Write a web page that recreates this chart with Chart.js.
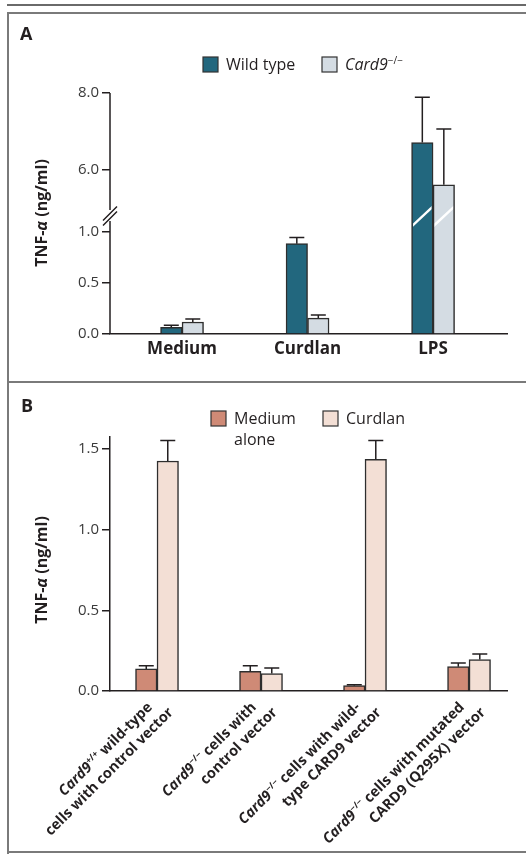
<!DOCTYPE html>
<html>
<head>
<meta charset="utf-8">
<script src="https://cdn.jsdelivr.net/npm/chart.js@4.4.1/dist/chart.umd.min.js"></script>
<style>
  body { margin: 0; background: #fff; }
  #wrap { position: relative; width: 526px; height: 854px; overflow: hidden; }
  .line { position: absolute; background: #7a7a7a; }
  canvas { position: absolute; left: 0; }
</style>
</head>
<body>
<div id="wrap">
  <div class="line" style="left:7px;top:4px;width:519px;height:2px;background:#6a6a6a"></div>
  <div class="line" style="left:7px;top:12px;width:519px;height:2px"></div>
  <div class="line" style="left:7px;top:12px;width:2px;height:842px"></div>
  <div class="line" style="left:7px;top:381px;width:519px;height:2px"></div>
  <div class="line" style="left:7px;top:851px;width:519px;height:2px"></div>
  <canvas id="chartA" width="526" height="382" style="top:0"></canvas>
  <canvas id="chartB" width="526" height="472" style="top:382px"></canvas>
</div>
<script>
// Panel A: TNF-alpha, wild type vs Card9-/-
const categoriesA = ['Medium', 'Curdlan', 'LPS'];
const wildTypeA = [0.065, 0.88, 6.71];
const wildTypeErrA = [0.02, 0.06, 1.18];
const card9A = [0.117, 0.155, 5.61];
const card9ErrA = [0.03, 0.03, 1.45];
const ticksA = [0, 0.5, 1.0, 6.0, 8.0];

// Panel B: TNF-alpha after vector transduction
const mediumB = [0.137, 0.122, 0.033, 0.151];
const mediumErrB = [0.02, 0.035, 0.006, 0.023];
const curdlanB = [1.426, 0.108, 1.437, 0.195];
const curdlanErrB = [0.127, 0.035, 0.116, 0.035];
const ticksB = [0, 0.5, 1.0, 1.5];

// labels with italic (i) and superscript (s) parts
const labelsB = [
  [[{t: 'Card9', i: 1}, {t: '+/+', s: 1}, {t: ' wild-type'}], [{t: 'cells with control vector'}]],
  [[{t: 'Card9', i: 1}, {t: '\u2212/\u2212', s: 1}, {t: ' cells with'}], [{t: 'control vector'}]],
  [[{t: 'Card9', i: 1}, {t: '\u2212/\u2212', s: 1}, {t: ' cells with wild-'}], [{t: 'type CARD9 vector'}]],
  [[{t: 'Card9', i: 1}, {t: '\u2212/\u2212', s: 1}, {t: ' cells with mutated'}], [{t: 'CARD9 (Q295X) vector'}]]
];
const yTitle = [{t: 'TNF-'}, {t: '\u03b1', i: 1}, {t: ' (ng/ml)'}];

const FONT = '"Open Sans", sans-serif';
const INK = '#231f20';
Chart.defaults.font.family = FONT;
Chart.defaults.color = INK;

// axis with a gap between 1.15 and 4.8
class BrokenScale extends Chart.LinearScale {
  getPixelForValue(value) {
    const b = this.options.brk;
    let f;
    if (value <= b.low) f = value / b.low * b.share;
    else if (value >= b.high) f = b.share + (value - b.high) / (this.max - b.high) * (1 - b.share);
    else f = b.share;
    return this.getPixelForDecimal(f);
  }
  getValueForPixel(pixel) {
    const b = this.options.brk;
    const f = this.getDecimalForPixel(pixel);
    if (f <= b.share) return f / b.share * b.low;
    return b.high + (f - b.share) / (1 - b.share) * (this.max - b.high);
  }
}
BrokenScale.id = 'broken';
BrokenScale.defaults = {};
Chart.register(BrokenScale);

function drawRich(ctx, parts, x, y, size, weight, align) {
  const fontOf = p => (p.i ? 'italic ' : '') + weight + ' ' + (p.s ? Math.round(size * 0.62) : size) + 'px ' + FONT;
  let w = 0;
  parts.forEach(p => { ctx.font = fontOf(p); w += ctx.measureText(p.t).width; });
  let cx = align === 'right' ? x - w : align === 'center' ? x - w / 2 : x;
  ctx.textAlign = 'left';
  parts.forEach(p => {
    ctx.font = fontOf(p);
    ctx.fillText(p.t, cx, p.s ? y - size * 0.38 : y);
    cx += ctx.measureText(p.t).width;
  });
}

const errorBars = {
  id: 'errorBars',
  afterDatasetsDraw(chart) {
    const ctx = chart.ctx, y = chart.scales.y;
    ctx.save();
    ctx.strokeStyle = INK;
    ctx.lineWidth = 1.5;
    chart.data.datasets.forEach((ds, di) => {
      chart.getDatasetMeta(di).data.forEach((bar, i) => {
        const top = y.getPixelForValue(ds.data[i].y + ds.errors[i]);
        ctx.beginPath();
        ctx.moveTo(bar.x, bar.y);
        ctx.lineTo(bar.x, top);
        ctx.moveTo(bar.x - 7.5, top);
        ctx.lineTo(bar.x + 7.5, top);
        ctx.stroke();
      });
    });
    ctx.restore();
  }
};

const axisBreak = {
  id: 'axisBreak',
  afterDatasetsDraw(chart) {
    const ctx = chart.ctx, y = chart.scales.y;
    const brk = y.options.brk;
    const by = y.getPixelForValue(brk.low);
    const left = chart.chartArea.left;
    ctx.save();
    // white slash through bars crossing the gap
    chart.data.datasets.forEach((ds, di) => {
      chart.getDatasetMeta(di).data.forEach((bar, i) => {
        if (ds.data[i].y < brk.high) return;
        const hw = bar.width / 2 - 1.5;
        ctx.save();
        ctx.beginPath();
        ctx.rect(bar.x - hw, by - 20, hw * 2, 40);
        ctx.clip();
        ctx.strokeStyle = '#fff';
        ctx.lineWidth = 2.5;
        ctx.beginPath();
        ctx.moveTo(bar.x - hw - 2, by + 11);
        ctx.lineTo(bar.x + hw + 2, by - 10);
        ctx.stroke();
        ctx.restore();
      });
    });
    ctx.strokeStyle = INK;
    ctx.lineWidth = 1.5;
    ctx.beginPath();
    ctx.moveTo(left, y.top);
    ctx.lineTo(left, by - 6);
    ctx.moveTo(left, by + 5);
    ctx.lineTo(left, y.bottom);
    [-2.5, 2.5].forEach(d => {
      ctx.moveTo(left - 7, by + d + 7);
      ctx.lineTo(left + 7, by + d - 7);
    });
    ctx.stroke();
    ctx.restore();
  }
};

// panel letter, y title, legend
const panelText = {
  id: 'panelText',
  afterDraw(chart, args, o) {
    const ctx = chart.ctx;
    ctx.save();
    ctx.fillStyle = INK;
    ctx.textBaseline = 'alphabetic';
    ctx.font = 'bold 18px ' + FONT;
    ctx.fillText(o.letter, o.letterX, o.letterY);
    ctx.save();
    ctx.translate(o.titleX, o.titleY);
    ctx.rotate(-Math.PI / 2);
    ctx.textBaseline = 'middle';
    drawRich(ctx, yTitle, 0, 0, 16, 'bold', 'center');
    ctx.restore();
    o.legend.forEach((item, k) => {
      const ds = chart.data.datasets[k];
      ctx.fillStyle = ds.backgroundColor;
      ctx.fillRect(item.x, o.legendY, 15, 15);
      ctx.strokeStyle = '#333';
      ctx.lineWidth = 1.2;
      ctx.strokeRect(item.x, o.legendY, 15, 15);
      ctx.fillStyle = INK;
      ctx.textBaseline = 'alphabetic';
      item.lines.forEach((line, j) => drawRich(ctx, line, item.x + 23, o.legendY + 13 + j * 21, 16, 'normal', 'left'));
    });
    ctx.restore();
  }
};

const slantLabels = {
  id: 'slantLabels',
  afterDraw(chart) {
    const ctx = chart.ctx, x = chart.scales.x;
    const base = chart.chartArea.bottom;
    ctx.save();
    ctx.fillStyle = INK;
    ctx.textBaseline = 'alphabetic';
    labelsB.forEach((lines, i) => {
      const cx = x.getPixelForValue(i);
      lines.forEach((line, j) => {
        ctx.save();
        ctx.translate(cx - 4 + j * 21, base + 17 + j * 5);
        ctx.rotate(-Math.PI / 4);
        drawRich(ctx, line, 0, 0, 14.5, 'bold', 'right');
        ctx.restore();
      });
    });
    ctx.restore();
  }
};

function barSet(label, values, errs, color) {
  return {
    label: label,
    data: values.map((v, i) => ({x: i, y: v})),
    errors: errs,
    backgroundColor: color,
    borderColor: '#2e2e2e',
    borderWidth: 1.5,
    borderSkipped: 'start',
    barThickness: 21.5
  };
}

const axisLine = {display: true, color: INK, width: 1.5};

new Chart(document.getElementById('chartA'), {
  type: 'bar',
  data: {
    datasets: [
      barSet('Wild type', wildTypeA, wildTypeErrA, '#22677e'),
      barSet('Card9-/-', card9A, card9ErrA, '#d4dce3')
    ]
  },
  options: {
    responsive: false,
    animation: false,
    layout: {padding: {left: 0, right: 19, top: 93, bottom: 0}},
    scales: {
      x: {
        type: 'linear', offset: false, min: -0.574, max: 2.589,
        afterBuildTicks: s => { s.ticks = categoriesA.map((c, i) => ({value: i})); },
        afterFit: s => { s.height = 48; },
        grid: {display: false, drawTicks: false},
        border: axisLine,
        ticks: {callback: v => categoriesA[v], font: {size: 17, weight: 'bold'}, color: INK, padding: 5, maxRotation: 0}
      },
      y: {
        type: 'broken', min: 0, max: 8,
        brk: {low: 1.15, high: 4.8, share: 0.49},
        afterBuildTicks: s => { s.ticks = ticksA.map(v => ({value: v})); },
        afterFit: s => { s.width = 110; },
        grid: {drawOnChartArea: false, drawTicks: true, tickLength: 8, color: INK, lineWidth: 1.5},
        border: {display: false},
        ticks: {callback: v => v.toFixed(1), font: {size: 15}, color: '#3a3a3a', padding: 3}
      }
    },
    plugins: {
      legend: {display: false},
      tooltip: {enabled: false},
      panelText: {
        letter: 'A', letterX: 20, letterY: 40, titleX: 42, titleY: 213, legendY: 57,
        legend: [
          {x: 203, lines: [[{t: 'Wild type'}]]},
          {x: 322, lines: [[{t: 'Card9', i: 1}, {t: '\u2212/\u2212', s: 1}]]}
        ]
      }
    }
  },
  plugins: [errorBars, axisBreak, panelText]
});

new Chart(document.getElementById('chartB'), {
  type: 'bar',
  data: {
    datasets: [
      barSet('Medium alone', mediumB, mediumErrB, '#cf8a76'),
      barSet('Curdlan', curdlanB, curdlanErrB, '#f3dfd5')
    ]
  },
  options: {
    responsive: false,
    animation: false,
    layout: {padding: {left: 0, right: 19, top: 55, bottom: 0}},
    scales: {
      x: {
        type: 'linear', offset: false, min: -0.452, max: 3.365,
        afterBuildTicks: s => { s.ticks = labelsB.map((l, i) => ({value: i})); },
        afterFit: s => { s.height = 163; },
        grid: {display: false, drawTicks: false},
        border: axisLine,
        ticks: {display: false}
      },
      y: {
        type: 'linear', min: 0, max: 1.575,
        afterBuildTicks: s => { s.ticks = ticksB.map(v => ({value: v})); },
        afterFit: s => { s.width = 110; },
        grid: {drawOnChartArea: false, drawTicks: true, tickLength: 8, color: INK, lineWidth: 1.5},
        border: axisLine,
        ticks: {callback: v => v.toFixed(1), font: {size: 15}, color: '#3a3a3a', padding: 3}
      }
    },
    plugins: {
      legend: {display: false},
      tooltip: {enabled: false},
      panelText: {
        letter: 'B', letterX: 21, letterY: 30, titleX: 42, titleY: 188, legendY: 29,
        legend: [
          {x: 211, lines: [[{t: 'Medium'}], [{t: 'alone'}]]},
          {x: 323, lines: [[{t: 'Curdlan'}]]}
        ]
      }
    }
  },
  plugins: [errorBars, slantLabels, panelText]
});
</script>
</body>
</html>
